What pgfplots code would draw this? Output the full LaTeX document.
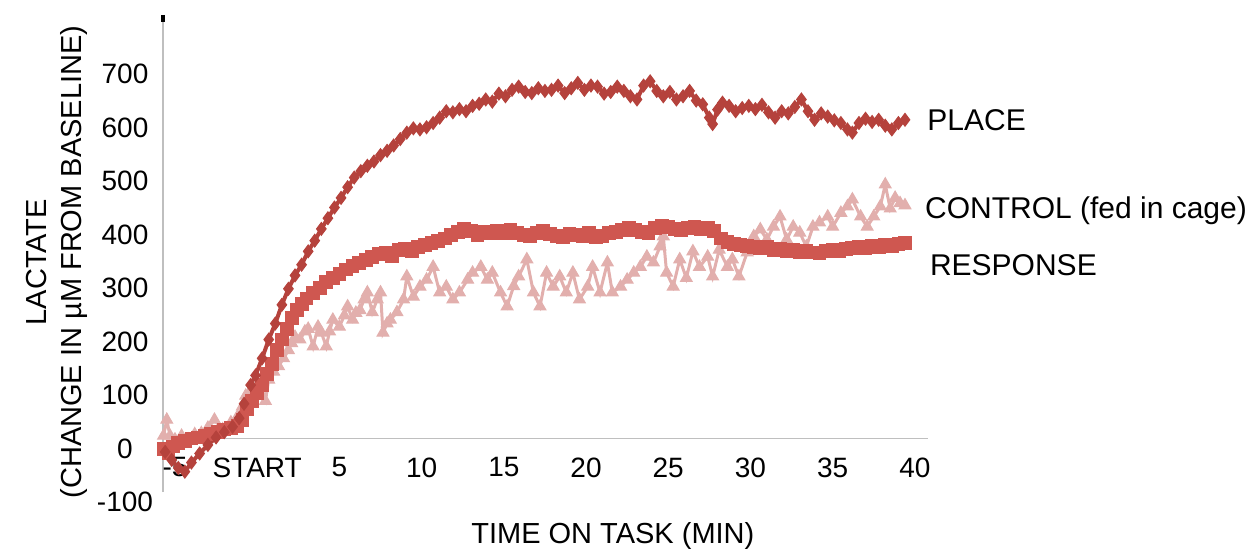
\documentclass[border=0pt]{standalone}
\usepackage{fontspec}
\setmainfont{Liberation Sans}
\usepackage{pgfplots}
\pgfplotsset{compat=1.18}
\definecolor{cplace}{HTML}{B5423C}
\definecolor{cresp}{HTML}{CF5750}
\definecolor{cctrl}{HTML}{E2AFAD}
\definecolor{axgray}{HTML}{BFBFBF}
\begin{document}
\begin{tikzpicture}
\useasboundingbox (0,0) rectangle (629pt,278.5pt);
\begin{axis}[
  at={(81.5pt,32.5pt)}, anchor=south west,
  scale only axis, width=382.5pt, height=238.5pt,
  xmin=-5.73, xmax=40.8, ymin=-100, ymax=792,
  axis x line=middle, axis y line=left,
  axis line style={axgray, line width=0.7pt, -},
  major tick length=0pt,
  xtick={-5,0,5,10,15,20,25,30,35,40},
  xticklabels={-5,START,5,10,15,20,25,30,35,40},
  ytick={-100,0,100,200,300,400,500,600,700},
  yticklabels={-100,0,100,200,300,400,500,600,700},
  xticklabel style={font=\fontsize{14}{16}\selectfont, yshift=-6pt},
  yticklabel style={font=\fontsize{14}{16}\selectfont, anchor=center, xshift=-19pt, yshift=-5pt},
  xlabel={TIME ON TASK (MIN)},
  xlabel style={font=\fontsize{14.5}{17}\selectfont, at={(axis description cs:0.588,-0.092)}, anchor=center},
  ylabel={LACTATE\\(CHANGE IN µM FROM BASELINE)},
  ylabel style={font=\fontsize{14.5}{17.5}\selectfont, align=center, at={(axis description cs:-0.1386,0.482)}, anchor=center},
  clip=false,
]
\addplot[color=cctrl, line width=1.5pt, mark=triangle*, mark size=3.4pt, mark options={fill=cctrl, draw=cctrl, line width=0.5pt}] coordinates {
(-5.7,5) (-5.5,35) (-5.3,5) (-5.0,-2) (-4.6,5) (-4.2,-2) (-3.8,8) (-3.4,10) (-3.0,20) (-2.6,35) (-2.1,17) (-1.6,30) (-1.2,41) (-0.9,60) (-0.7,80) (-0.4,90) (-0.1,97) (0.2,85) (0.5,70) (0.7,110) (1.0,125) (1.3,135) (1.6,150) (1.9,165) (2.1,178) (2.3,190) (2.6,185) (2.9,200) (3.1,205) (3.4,172) (3.7,209) (3.9,198) (4.2,172) (4.4,200) (4.6,222) (5.0,209) (5.3,230) (5.5,247) (5.8,222) (6.0,235) (6.25,240) (6.5,260) (6.7,273) (7.0,236) (7.3,260) (7.5,273) (7.65,198) (7.9,215) (8.1,222) (8.5,236) (8.9,260) (9.1,303) (9.5,265) (9.9,284) (10.3,297) (10.7,321) (11.1,273) (11.5,284) (11.9,260) (12.3,273) (12.8,297) (13.1,310) (13.6,321) (14.0,297) (14.3,310) (14.8,273) (15.2,247) (15.6,285) (15.9,303) (16.4,335) (16.8,273) (17.2,247) (17.6,310) (18.0,284) (18.4,303) (18.8,273) (19.2,310) (19.6,260) (20.1,284) (20.4,321) (20.85,273) (21.3,329) (21.6,273) (22.1,284) (22.5,297) (22.9,310) (23.3,321) (23.7,340) (24.1,329) (24.5,359) (24.7,378) (24.9,310) (25.3,284) (25.7,335) (26.1,300) (26.5,350) (26.9,321) (27.4,340) (27.7,303) (28.1,353) (28.6,321) (28.9,335) (29.3,303) (29.8,348) (30.2,378) (30.6,391) (31.0,372) (31.4,396) (31.8,415) (32.2,372) (32.6,396) (33.0,385) (33.4,359) (33.8,396) (34.2,404) (34.7,415) (35.0,396) (35.5,422) (35.9,434) (36.2,447) (36.7,415) (37.1,396) (37.5,415) (37.9,434) (38.2,475) (38.5,430) (38.8,450) (39.1,440) (39.4,436)
};
\addplot[color=cresp, line width=2.2pt, mark=square*, mark size=3.2pt, mark options={fill=cresp, draw=cresp, line width=0.5pt}] coordinates {
(-5.7,-20) (-5.4,-28) (-5.1,-15) (-4.8,-8) (-4.4,-5) (-4.0,0) (-3.6,2) (-3.2,5) (-2.8,8) (-2.4,12) (-2.0,17) (-1.6,20) (-1.2,24) (-0.9,35) (-0.6,55) (-0.3,70) (0.0,85) (0.3,100) (0.6,120) (0.9,140) (1.2,165) (1.5,185) (1.8,205) (2.1,225) (2.4,240) (2.7,252) (3.0,262) (3.4,272) (3.8,282) (4.2,292) (4.6,300) (5.0,308) (5.4,316) (5.8,322) (6.2,328) (6.6,334) (7.0,340) (7.4,345) (7.8,348) (8.2,342) (8.6,352) (9.0,355) (9.4,350) (9.8,358) (10.2,362) (10.6,365) (11.0,370) (11.4,374) (11.8,380) (12.2,386) (12.6,392) (13.0,388) (13.4,380) (13.8,386) (14.2,384) (14.6,388) (15.0,384) (15.4,390) (15.8,385) (16.2,380) (16.6,378) (17.0,384) (17.4,388) (17.8,382) (18.2,378) (18.6,376) (19.0,382) (19.4,380) (19.8,378) (20.2,384) (20.6,376) (21.0,378) (21.4,384) (21.8,386) (22.2,390) (22.6,394) (23.0,390) (23.4,386) (23.8,384) (24.2,394) (24.6,398) (25.0,396) (25.4,392) (25.8,390) (26.2,394) (26.6,396) (27.0,392) (27.4,394) (27.8,388) (28.2,374) (28.6,368) (29.0,364) (29.4,362) (29.8,360) (30.2,358) (30.6,356) (31.0,358) (31.4,352) (31.8,354) (32.2,350) (32.6,352) (33.0,348) (33.4,350) (33.8,348) (34.2,346) (34.6,350) (35.0,352) (35.4,350) (35.8,354) (36.2,356) (36.6,358) (37.0,356) (37.4,360) (37.8,358) (38.2,362) (38.6,360) (39.0,364) (39.4,366)
};
\addplot[color=cplace, line width=2pt, mark=diamond*, mark size=3.2pt, mark options={fill=cplace, draw=cplace, line width=0.5pt}] coordinates {
(-5.6,-25) (-5.2,-40) (-4.8,-55) (-4.4,-62) (-4.0,-45) (-3.5,-28) (-3.0,-12) (-2.5,2) (-2.0,12) (-1.5,22) (-1.1,38) (-0.8,65) (-0.4,100) (-0.1,118) (0.3,150) (0.7,185) (1.1,215) (1.5,250) (1.9,280) (2.3,305) (2.7,325) (3.1,350) (3.5,370) (3.9,392) (4.3,412) (4.7,432) (5.1,450) (5.5,470) (5.9,488) (6.3,500) (6.7,510) (7.1,518) (7.5,530) (7.9,538) (8.3,548) (8.7,560) (9.1,572) (9.5,580) (9.9,578) (10.3,582) (10.7,590) (11.1,600) (11.5,612) (11.9,610) (12.3,616) (12.7,612) (13.1,622) (13.5,626) (13.9,634) (14.3,630) (14.7,645) (15.1,640) (15.5,652) (15.9,658) (16.3,648) (16.7,646) (17.1,655) (17.5,650) (17.9,652) (18.3,660) (18.7,646) (19.1,655) (19.5,665) (19.9,652) (20.3,660) (20.7,658) (21.1,645) (21.5,648) (21.9,658) (22.3,650) (22.7,640) (23.1,634) (23.5,660) (23.9,668) (24.3,650) (24.7,640) (25.1,648) (25.5,634) (25.9,640) (26.3,650) (26.7,632) (27.1,625) (27.5,600) (27.7,588) (28.0,615) (28.3,628) (28.7,622) (29.1,612) (29.5,618) (29.9,622) (30.3,616) (30.7,624) (31.1,610) (31.5,600) (31.9,612) (32.3,608) (32.7,620) (33.1,634) (33.5,612) (33.9,596) (34.3,608) (34.7,602) (35.1,595) (35.5,590) (35.9,578) (36.2,572) (36.6,590) (37.0,598) (37.4,592) (37.8,596) (38.2,585) (38.6,578) (39.0,590) (39.4,596)
};
\draw[black, line width=1.6pt] (rel axis cs:0,1) -- (rel axis cs:0,0.985);
\node[anchor=west, font=\fontsize{15}{17}\selectfont, inner sep=0pt] at (axis cs:40.74,596) {PLACE};
\node[anchor=west, font=\fontsize{15}{17}\selectfont, inner sep=0pt] at (axis cs:40.6,426) {CONTROL (fed in cage)};
\node[anchor=west, font=\fontsize{15}{17}\selectfont, inner sep=0pt] at (axis cs:40.9,325) {RESPONSE};
\end{axis}
\end{tikzpicture}
\end{document}
